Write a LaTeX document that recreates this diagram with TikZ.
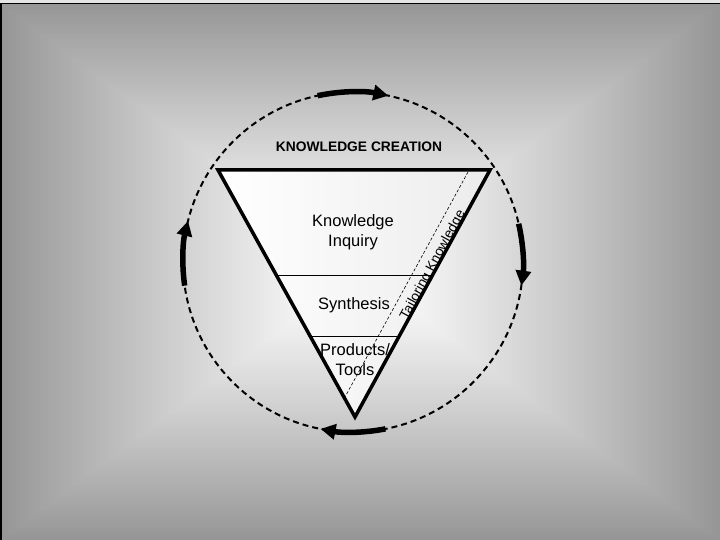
\documentclass[tikz,border=0pt]{standalone}
\usepackage{fontspec}
\setmainfont{Liberation Sans}
\usetikzlibrary{arrows.meta,calc}
\definecolor{edgegray}{RGB}{150,150,150}
\definecolor{stripgray}{RGB}{228,228,228}
\definecolor{trigray}{RGB}{236,236,236}
\begin{document}
\begin{tikzpicture}[x=1pt,y=1pt,
  cycarrow/.style={line width=5.5pt,-{Triangle[length=15pt,width=15pt]}},
  cycdash/.style={line width=2pt,dash pattern=on 6pt off 4pt},
  levelline/.style={line width=0.8pt},
  tailorline/.style={line width=0.6pt,dash pattern=on 3pt off 2pt},
  label/.style={font=\fontsize{16.5}{20}\selectfont,align=center,inner sep=0pt},
  title/.style={font=\bfseries\fontsize{13.8}{16}\selectfont,inner sep=0pt},
  tailor/.style={font=\fontsize{13.6}{15}\selectfont,inner sep=0pt}]
\useasboundingbox (0,0) rectangle (720,540);
% background rectangular gradient
\coordinate (C0) at (360,268.5);
\foreach \i in {0,...,89} {
  \pgfmathsetmacro\f{1-\i/90}
  \pgfmathsetmacro\p{100*(\f^1.2)}
  \fill[edgegray!\p!white] ($(C0)+({-360*\f},{-268.5*\f})$) rectangle ($(C0)+({360*\f},{268.5*\f})$);
}
\fill[stripgray] (0,537) rectangle (720,540);
\draw[line width=1.5pt] (0,536.5) -- (720,536.5);
\draw[line width=1.5pt] (0.75,0) -- (0.75,537);
% cycle circle
\coordinate (O) at (353,278);
\draw[cycdash] (O) circle[radius=170];
% triangle
\coordinate (TL) at (218,370);
\coordinate (TR) at (490,370);
\coordinate (B) at (355,123);
\draw[line width=3.5pt,line join=miter,left color=white,right color=trigray] (TL) -- (TR) -- (B) -- cycle;
\draw[levelline] ($(TL)!0.425!(B)$) -- ($(TR)!0.425!(B)$);
\draw[levelline] ($(TL)!0.672!(B)$) -- ($(TR)!0.672!(B)$);
% tailoring line
\coordinate (D1) at (468,368);
\coordinate (D2) at (345,143);
\draw[tailorline] (D1) -- (D2);
% texts
\node[title] (kc) at (359,393.5) {KNOWLEDGE CREATION};
\node[label] (ki) at (353,308) {Knowledge\\Inquiry};
\node[label] (syn) at (354,235) {Synthesis};
\node[label] (pt) at (355,180.5) {Products/\\Tools};
\node[tailor,rotate=61.5] (tk) at (433,275) {Tailoring Knowledge};
% cycle arrows
\draw[cycarrow] ($(O)+(102:170)$) arc[start angle=102,end angle=78,radius=170];
\draw[cycarrow] ($(O)+(13:170)$) arc[start angle=13,end angle=-8,radius=170];
\draw[cycarrow] ($(O)+(-79:170)$) arc[start angle=-79,end angle=-101,radius=170];
\draw[cycarrow] ($(O)+(188:170)$) arc[start angle=188,end angle=166,radius=170];
\end{tikzpicture}
\end{document}
